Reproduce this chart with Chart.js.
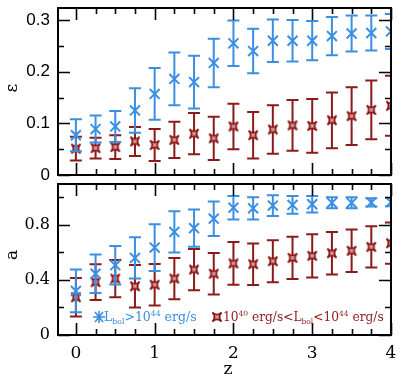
<!DOCTYPE html>
<html>
<head>
<meta charset="utf-8">
<script src="https://cdn.jsdelivr.net/npm/chart.js@4.4.1/dist/chart.umd.min.js"></script>
<style>
  body { margin: 0; background: #fff; }
  #wrap { position: relative; width: 400px; height: 378px; overflow: hidden; background: #fff; }
  canvas { position: absolute; left: 0; }
  #topChart { top: -1px; }
  #bottomChart { top: 175px; }
</style>
</head>
<body>
<div id="wrap">
  <canvas id="topChart" width="400" height="192"></canvas>
  <canvas id="bottomChart" width="400" height="203"></canvas>
</div>
<script>
'use strict';

// redshift bins
const z = [0, 0.25, 0.5, 0.75, 1, 1.25, 1.5, 1.75, 2, 2.25, 2.5, 2.75, 3, 3.25, 3.5, 3.75, 4];

// top panel: epsilon
const epsHigh    = [0.077, 0.089, 0.094, 0.125, 0.157, 0.186, 0.180, 0.217, 0.255, 0.240, 0.260, 0.260, 0.260, 0.269, 0.274, 0.275, 0.278];
const epsHighErr = [0.031, 0.026, 0.030, 0.043, 0.050, 0.051, 0.051, 0.047, 0.044, 0.043, 0.041, 0.040, 0.038, 0.037, 0.035, 0.034, 0.034];
const epsLow     = [0.051, 0.052, 0.054, 0.065, 0.058, 0.068, 0.080, 0.071, 0.094, 0.077, 0.088, 0.096, 0.095, 0.106, 0.114, 0.126, 0.134];
const epsLowErr  = [0.023, 0.020, 0.023, 0.028, 0.031, 0.035, 0.040, 0.042, 0.044, 0.045, 0.047, 0.049, 0.052, 0.054, 0.056, 0.057, 0.058];

// bottom panel: a
const aHigh    = [0.320, 0.445, 0.507, 0.560, 0.635, 0.749, 0.776, 0.845, 0.925, 0.920, 0.940, 0.945, 0.950, 0.960, 0.960, 0.963, 0.965];
const aHighErr = [0.155, 0.140, 0.140, 0.150, 0.170, 0.150, 0.135, 0.125, 0.085, 0.080, 0.075, 0.065, 0.060, 0.040, 0.040, 0.030, 0.030];
const aLow     = [0.274, 0.384, 0.410, 0.354, 0.365, 0.410, 0.475, 0.445, 0.520, 0.514, 0.536, 0.560, 0.575, 0.594, 0.612, 0.640, 0.667];
const aLowErr  = [0.140, 0.130, 0.135, 0.155, 0.150, 0.150, 0.150, 0.150, 0.155, 0.150, 0.153, 0.153, 0.157, 0.155, 0.154, 0.150, 0.150];

// axis ticks
const xLabelTicks = [0, 1, 2, 3, 4];
const xMinorTicks = [0.25, 0.5, 0.75, 1.25, 1.5, 1.75, 2.25, 2.5, 2.75, 3.25, 3.5, 3.75];
const epsLabelTicks = [0, 0.1, 0.2, 0.3];
const epsMinorTicks = [0.05, 0.15, 0.25];
const aLabelTicks = [0, 0.4, 0.8];
const aMinorTicks = [0.2, 0.6, 1.0];

const BLUE = '#3a8fe3';
const RED = '#8c1a1a';
const SERIF = "'DejaVu Serif', serif";


function makeRedMarker(r) {
    const c = document.createElement('canvas');
    const s = Math.ceil(2 * r + 4);
    c.width = s;
    c.height = s;
    const g = c.getContext('2d');
    const m = s / 2;
    const k = r * 0.05;
    g.beginPath();
    g.moveTo(m - r, m - r);
    g.quadraticCurveTo(m, m - k, m + r, m - r);
    g.quadraticCurveTo(m + k, m, m + r, m + r);
    g.quadraticCurveTo(m, m + k, m - r, m + r);
    g.quadraticCurveTo(m - k, m, m - r, m - r);
    g.closePath();
    g.fillStyle = '#dca0a0';
    g.fill();
    g.lineWidth = 1.8;
    g.strokeStyle = RED;
    g.stroke();
    return c;
}
const redMarker = makeRedMarker(4.6);


function points(values) {
    return z.map((x, i) => ({ x: x, y: values[i] }));
}


// error bars drawn under each dataset's markers
const errorBars = {
    id: 'errorBars',
    beforeDatasetDraw(chart, args) {
        const ds = chart.data.datasets[args.index];
        const ctx = chart.ctx, area = chart.chartArea;
        const xs = chart.scales.x, ys = chart.scales.y;
        const cap = 6;
        ctx.save();
        ctx.beginPath();
        ctx.rect(area.left, area.top, area.right - area.left, area.bottom - area.top);
        ctx.clip();
        ctx.strokeStyle = ds.borderColor;
        ctx.lineWidth = 2;
        ds.data.forEach((p, i) => {
            const px = xs.getPixelForValue(p.x);
            const top = ys.getPixelForValue(p.y + ds.errors[i]);
            const bot = ys.getPixelForValue(p.y - ds.errors[i]);
            ctx.beginPath();
            ctx.moveTo(px, top);
            ctx.lineTo(px, bot);
            ctx.moveTo(px - cap, top);
            ctx.lineTo(px + cap, top);
            ctx.moveTo(px - cap, bot);
            ctx.lineTo(px + cap, bot);
            ctx.stroke();
        });
        ctx.restore();
    }
};


// box frame with inward ticks on all four sides
function framePlugin(yMajor, yMinor) {
    return {
        id: 'frame',
        afterDatasetsDraw(chart) {
            const ctx = chart.ctx, a = chart.chartArea;
            const xs = chart.scales.x, ys = chart.scales.y;
            ctx.save();
            ctx.strokeStyle = '#000';
            ctx.lineWidth = 1.6;
            ctx.beginPath();
            const tick = (vals, len, horiz) => {
                vals.forEach(v => {
                    if (horiz) {
                        const py = Math.round(ys.getPixelForValue(v)) + 0.5;
                        ctx.moveTo(a.left, py); ctx.lineTo(a.left + len, py);
                        ctx.moveTo(a.right, py); ctx.lineTo(a.right - len, py);
                    } else {
                        const px = Math.round(xs.getPixelForValue(v)) + 0.5;
                        ctx.moveTo(px, a.bottom); ctx.lineTo(px, a.bottom - len);
                        ctx.moveTo(px, a.top); ctx.lineTo(px, a.top + len);
                    }
                });
            };
            tick(yMajor, 12, true);
            tick(yMinor, 6, true);
            tick(xLabelTicks, 12, false);
            tick(xMinorTicks, 6, false);
            ctx.stroke();
            ctx.lineWidth = 2;
            ctx.strokeRect(a.left, a.top, a.right - a.left, a.bottom - a.top);
            ctx.restore();
        }
    };
}


function drawRuns(ctx, x, y, runs, size, color) {
    ctx.fillStyle = color;
    ctx.textAlign = 'left';
    ctx.textBaseline = 'alphabetic';
    runs.forEach(([t, mode]) => {
        const s = mode === 'n' ? size : size * 0.62;
        const dy = mode === 'sup' ? -size * 0.42 : (mode === 'sub' ? size * 0.25 : 0);
        ctx.font = s + 'px ' + SERIF;
        ctx.fillText(t, x, y + dy);
        x += ctx.measureText(t).width;
    });
    return x;
}

function drawVerticalTitle(ctx, text, x, y, font) {
    ctx.save();
    ctx.translate(x, y);
    ctx.rotate(-Math.PI / 2);
    ctx.font = font;
    ctx.fillStyle = '#000';
    ctx.textAlign = 'center';
    ctx.textBaseline = 'middle';
    ctx.fillText(text, 0, 0);
    ctx.restore();
}


function yAxis(min, max, labelTicks, font) {
    return {
        type: 'linear',
        min: min,
        max: max,
        grid: { display: false, drawTicks: false },
        border: { display: false },
        ticks: { color: '#000', font: font, padding: 8 },
        afterBuildTicks: (scale) => { scale.ticks = labelTicks.map(v => ({ value: v })); },
        afterFit: (scale) => {
            scale.width = 58;
            scale.paddingTop = 0;
            scale.paddingBottom = 0;
        }
    };
}

function datasets(highVals, highErr, lowVals, lowErr) {
    return [
        {
            data: points(highVals),
            errors: highErr,
            borderColor: BLUE,
            backgroundColor: BLUE,
            pointStyle: 'crossRot',
            pointRadius: 7,
            pointBorderWidth: 2,
            showLine: false,
            clip: 0
        },
        {
            data: points(lowVals),
            errors: lowErr,
            borderColor: RED,
            backgroundColor: RED,
            pointStyle: redMarker,
            pointRadius: 5,
            showLine: false,
            clip: 0
        }
    ];
}

const commonOptions = {
    responsive: false,
    animation: false,
    events: [],
    plugins: { legend: { display: false }, tooltip: { enabled: false } }
};


// top panel
new Chart(document.getElementById('topChart').getContext('2d'), {
    type: 'scatter',
    data: { datasets: datasets(epsHigh, epsHighErr, epsLow, epsLowErr) },
    options: Object.assign({}, commonOptions, {
        layout: { padding: { top: 0, right: 6, bottom: 16, left: 0 } },
        scales: {
            x: { type: 'linear', min: -0.227, max: 4, display: false },
            y: yAxis(0, 0.3234, epsLabelTicks, { family: "'Liberation Sans', sans-serif", size: 17 })
        }
    }),
    plugins: [errorBars, framePlugin(epsLabelTicks, epsMinorTicks), {
        id: 'topText',
        afterDraw(chart) {
            drawVerticalTitle(chart.ctx, 'ε', 13, 89, '17px ' + SERIF);
        }
    }]
});


// bottom panel
new Chart(document.getElementById('bottomChart').getContext('2d'), {
    type: 'scatter',
    data: { datasets: datasets(aHigh, aHighErr, aLow, aLowErr) },
    options: Object.assign({}, commonOptions, {
        layout: { padding: { top: 0, right: 6, bottom: 0, left: 0 } },
        scales: {
            x: {
                type: 'linear',
                min: -0.227,
                max: 4,
                grid: { display: false, drawTicks: false },
                border: { display: false },
                ticks: { color: '#000', font: { family: SERIF, size: 17 }, padding: 8 },
                afterBuildTicks: (scale) => { scale.ticks = xLabelTicks.map(v => ({ value: v })); },
                afterFit: (scale) => {
                    scale.height = 43;
                    scale.paddingLeft = 0;
                    scale.paddingRight = 0;
                }
            },
            y: yAxis(0, 1.097, aLabelTicks, { family: SERIF, size: 16 })
        }
    }),
    plugins: [errorBars, framePlugin(aLabelTicks, aMinorTicks), {
        id: 'bottomText',
        afterDraw(chart) {
            const ctx = chart.ctx;
            drawVerticalTitle(ctx, 'a', 13, 80, '17px ' + SERIF);

            ctx.save();
            ctx.font = '17px ' + SERIF;
            ctx.fillStyle = '#000';
            ctx.textAlign = 'center';
            ctx.textBaseline = 'middle';
            ctx.fillText('z', 228, 195);
            ctx.restore();

            // legend, blue entry
            const ly = 146;
            ctx.save();
            ctx.strokeStyle = BLUE;
            ctx.lineWidth = 1.6;
            ctx.beginPath();
            ctx.moveTo(93, ly - 4); ctx.lineTo(105, ly - 4);
            ctx.moveTo(95, ly - 9); ctx.lineTo(103, ly + 1);
            ctx.moveTo(103, ly - 9); ctx.lineTo(95, ly + 1);
            ctx.moveTo(99, ly - 10); ctx.lineTo(99, ly + 2);
            ctx.stroke();
            ctx.restore();
            drawRuns(ctx, 104, ly, [['L', 'n'], ['bol', 'sub'], ['>10', 'n'], ['44', 'sup'], [' erg/s', 'n']], 12.5, BLUE);

            // legend, red entry
            ctx.drawImage(redMarker, 217 - redMarker.width / 2, ly - 4 - redMarker.height / 2);
            drawRuns(ctx, 223, ly, [['10', 'n'], ['40', 'sup'], [' erg/s<L', 'n'], ['bol', 'sub'], ['<10', 'n'], ['44', 'sup'], [' erg/s', 'n']], 12.2, RED);
        }
    }]
});
</script>
</body>
</html>
